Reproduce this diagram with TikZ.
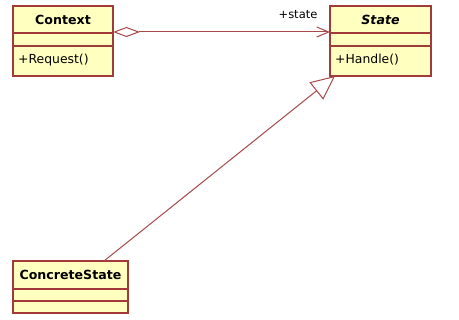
\documentclass[tikz,border=0pt]{standalone}
\usepackage{fontspec}
\setmainfont{DejaVu Sans}
\usetikzlibrary{arrows.meta}
\definecolor{umlborder}{HTML}{A33A3A}
\definecolor{umlfill}{HTML}{FFFFC0}
\definecolor{umlline}{HTML}{A84848}
\begin{document}
\begin{tikzpicture}[x=1pt,y=-1pt,
  cls/.style={draw=umlborder,fill=umlfill,line width=1.2pt,inner sep=0pt,outer sep=0pt},
  ttl/.style={font=\fontsize{12.6}{14}\selectfont\bfseries,inner sep=0pt},
  op/.style={font=\fontsize{12.4}{14}\selectfont,inner sep=0pt,anchor=west},
  conn/.style={draw=umlline,line width=1pt}]
\useasboundingbox (0,0) rectangle (459,320);
\fill[white] (0,0) rectangle (459,320);
% Context
\node[cls,minimum width=100pt,minimum height=70pt] (ctx) at (63,41) {};
\draw[umlborder,line width=1.2pt] ([yshift=-27pt]ctx.north west) -- ([yshift=-27pt]ctx.north east);
\draw[umlborder,line width=1.2pt] ([yshift=-40pt]ctx.north west) -- ([yshift=-40pt]ctx.north east);
\node[ttl] (ctxname) at (63,20) {Context};
\node[op] (ctxop) at (18,60) {+Request()};
% State
\node[cls,minimum width=101pt,minimum height=70pt] (st) at (380.5,41) {};
\draw[umlborder,line width=1.2pt] ([yshift=-27pt]st.north west) -- ([yshift=-27pt]st.north east);
\draw[umlborder,line width=1.2pt] ([yshift=-40pt]st.north west) -- ([yshift=-40pt]st.north east);
\node[ttl,font=\fontsize{12.6}{14}\selectfont\bfseries\itshape] (stname) at (380.5,20) {State};
\node[op] (stop) at (335,60) {+Handle()};
% ConcreteState
\node[cls,minimum width=115pt,minimum height=52pt] (cs) at (70.5,287) {};
\draw[umlborder,line width=1.2pt] ([yshift=-28pt]cs.north west) -- ([yshift=-28pt]cs.north east);
\draw[umlborder,line width=1.2pt] ([yshift=-40pt]cs.north west) -- ([yshift=-40pt]cs.north east);
\node[ttl] (csname) at (70.5,275) {ConcreteState};
% aggregation
\draw[conn,{Diamond[open,length=27pt,width=10pt,fill=white]}-{Straight Barb[length=12pt,width=10pt]}]
  ([yshift=-26pt]ctx.north east) -- ([yshift=-26pt]st.north west);
\node[font=\fontsize{11.5}{13}\selectfont,inner sep=0pt] (lbl) at (298,15) {+state};
% generalization
\draw[conn,-{Triangle[open,length=24pt,width=22pt,fill=white]}]
  ([xshift=-24pt]cs.north east) -- ([xshift=5pt]st.south west);
\end{tikzpicture}
\end{document}
